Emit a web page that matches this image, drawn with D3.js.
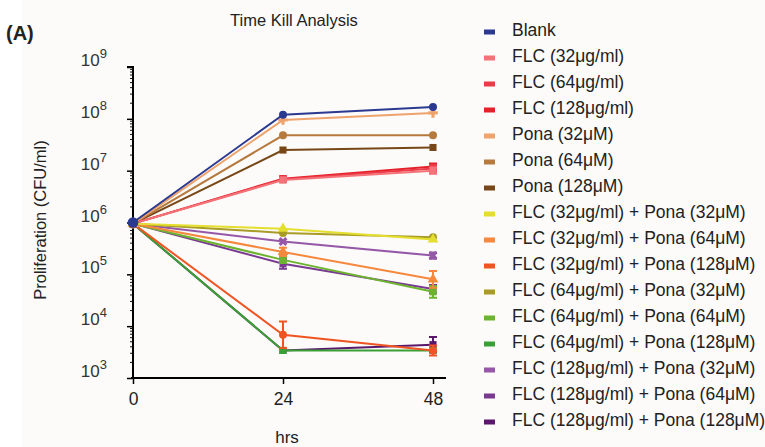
<!DOCTYPE html>
<meta charset="utf-8">
<script src="https://d3js.org/d3.v7.min.js"></script>
<style>
    body { margin: 0; background: #fff; }
    text { font-family: 'Liberation Sans', Arial, sans-serif; fill: #222; }
</style>
<div id="chart"></div>
<script>
    // time points (hrs)
    let hours = [0, 24, 48];
    let xTicks = [0, 24, 48];
    let yTickExps = [3, 4, 5, 6, 7, 8, 9];

    let names = [
        "Blank", "FLC (32μg/ml)", "FLC (64μg/ml)", "FLC (128μg/ml)",
        "Pona (32μM)", "Pona (64μM)", "Pona (128μM)",
        "FLC (32μg/ml) + Pona (32μM)", "FLC (32μg/ml) + Pona (64μM)", "FLC (32μg/ml) + Pona (128μM)",
        "FLC (64μg/ml) + Pona (32μM)", "FLC (64μg/ml) + Pona (64μM)", "FLC (64μg/ml) + Pona (128μM)",
        "FLC (128μg/ml) + Pona (32μM)", "FLC (128μg/ml) + Pona (64μM)", "FLC (128μg/ml) + Pona (128μM)"
    ];
    let colors = [
        "#2b3990", "#f47378", "#ec3b48", "#e5202a",
        "#eea36c", "#b67a3f", "#774717",
        "#e4de2e", "#f5883c", "#ef5522",
        "#a89c26", "#6cb42f", "#3a9f34",
        "#9558a8", "#7a3a92", "#5a176c"
    ];
    let markers = [
        "circle", "square", "square", "square",
        "cross", "circle", "square",
        "triangle", "triangle", "circle",
        "circle", "square", "square",
        "x", "square", "square"
    ];
    // CFU/ml at 0, 24, 48 hrs
    let values = [
        [1.0e6, 1.2e8, 1.7e8],
        [9.5e5, 6.6e6, 1.0e7],
        [9.5e5, 6.8e6, 1.1e7],
        [9.5e5, 7.0e6, 1.2e7],
        [9.5e5, 9.5e7, 1.3e8],
        [9.5e5, 4.8e7, 4.8e7],
        [9.5e5, 2.5e7, 2.8e7],
        [9.5e5, 7.6e5, 4.7e5],
        [9.5e5, 2.7e5, 8.0e4],
        [9.5e5, 6.8e3, 3.4e3],
        [9.5e5, 6.3e5, 5.2e5],
        [9.5e5, 1.9e5, 4.6e4],
        [9.5e5, 3.4e3, 3.4e3],
        [9.5e5, 4.3e5, 2.3e5],
        [9.5e5, 1.6e5, 5.2e4],
        [9.5e5, 3.4e3, 4.4e3]
    ];
    // error bar half-range as multiplicative factor (1 = none)
    let errors = [
        [1, 1, 1], [1, 1.1, 1.15], [1, 1.1, 1.15], [1, 1.1, 1.15],
        [1, 1, 1], [1, 1, 1], [1, 1, 1],
        [1, 1, 1], [1, 1.2, 1.45], [1, 1.8, 1.25],
        [1, 1, 1], [1, 1.15, 1.3], [1, 1, 1],
        [1, 1, 1.15], [1, 1.25, 1.2], [1, 1, 1.4]
    ];

    let width = 765, height = 447;
    let svg = d3.select("#chart").append("svg")
        .attr("width", width).attr("height", height);

    svg.append("rect").attr("x", 22).attr("y", 0)
        .attr("width", width - 22).attr("height", height).attr("fill", "#fcfbf9");

    let x = d3.scaleLinear().domain([0, 48]).range([133, 433]);
    let y = d3.scaleLog().domain([1e3, 1e9]).range([378, 67]);

    // title and panel label
    svg.append("text").attr("x", 294).attr("y", 26).attr("text-anchor", "middle")
        .style("font-size", "16.5px").text("Time Kill Analysis");
    svg.append("text").attr("x", 6).attr("y", 40)
        .style("font-size", "20px").style("font-weight", "bold").text("(A)");

    // y axis with minor ticks
    let yAxis = d3.axisLeft(y)
        .tickValues(yTickExps.map(e => Math.pow(10, e)))
        .tickSize(6).tickFormat("");
    let gy = svg.append("g").attr("transform", "translate(133,0)").call(yAxis);
    let minor = [];
    for (let e = 3; e < 9; e++) for (let k = 2; k < 10; k++) minor.push(k * Math.pow(10, e));
    gy.selectAll(".minor").data(minor).enter().append("line")
        .attr("class", "minor").attr("x1", -3).attr("x2", 0)
        .attr("y1", d => y(d)).attr("y2", d => y(d))
        .attr("stroke", "#111").attr("stroke-width", 1);
    gy.select(".domain").attr("d", "M-6," + y(1e9) + "H0V" + y(1e3)).attr("stroke-width", 2);
    gy.selectAll(".tick line").attr("stroke-width", 1.5);

    // tick labels as 10 with superscript exponent
    let lab = svg.append("g").selectAll("text").data(yTickExps).enter().append("text")
        .attr("x", 107).attr("y", d => y(Math.pow(10, d)) - 1)
        .attr("text-anchor", "end").style("font-size", "17px").style("fill", "#333");
    lab.append("tspan").text("10");
    lab.append("tspan").attr("dy", -8).style("font-size", "13px").text(d => d);

    // x axis
    let gx = svg.append("g").attr("transform", "translate(0,378)")
        .call(d3.axisBottom(x).tickValues(xTicks).tickSize(6).tickSizeOuter(0));
    gx.select(".domain").attr("d", "M131,0H446").attr("stroke-width", 2);
    gx.selectAll(".tick line").attr("stroke-width", 1.5);
    gx.selectAll(".tick text").attr("y", 15).style("font-size", "17.5px")
        .style("font-family", "'Liberation Sans', Arial, sans-serif").attr("fill", "#222");

    svg.append("text").attr("x", 287).attr("y", 443).attr("text-anchor", "middle")
        .style("font-size", "17px").text("hrs");
    svg.append("text").attr("transform", "translate(46,220) rotate(-90)")
        .attr("text-anchor", "middle").style("font-size", "16.5px").text("Proliferation (CFU/ml)");

    let line = d3.line().x((d, i) => x(hours[i])).y(d => y(d));
    let symbolTypes = {
        circle: d3.symbolCircle, square: d3.symbolSquare,
        triangle: d3.symbolTriangle, cross: d3.symbolCross, x: d3.symbolCross
    };

    // draw series, lowest first so Blank sits on top
    let order = d3.range(names.length).reverse();
    order.forEach(function (s) {
        let g = svg.append("g");
        g.append("path").datum(values[s]).attr("d", line)
            .attr("fill", "none").attr("stroke", colors[s]).attr("stroke-width", 2);
        values[s].forEach(function (v, i) {
            let f = errors[s][i];
            if (f > 1) {
                let cx = x(hours[i]);
                g.append("path")
                    .attr("d", "M" + (cx - 4) + "," + y(v * f) + "H" + (cx + 4) +
                        "M" + cx + "," + y(v * f) + "V" + y(v / f) +
                        "M" + (cx - 4) + "," + y(v / f) + "H" + (cx + 4))
                    .attr("stroke", colors[s]).attr("stroke-width", 2).attr("fill", "none");
            }
            let rot = markers[s] === "x" ? " rotate(45)" : "";
            g.append("path")
                .attr("transform", "translate(" + x(hours[i]) + "," + y(v) + ")" + rot)
                .attr("d", d3.symbol().type(symbolTypes[markers[s]]).size(s === 0 && i === 0 ? 90 : 50)())
                .attr("fill", colors[s]);
        });
    });

    // legend
    let leg = svg.append("g").selectAll("g").data(names).enter().append("g")
        .attr("transform", (d, i) => "translate(484," + (32 + i * 26) + ")");
    leg.append("rect").attr("x", 0).attr("y", -2.5).attr("width", 11).attr("height", 5)
        .attr("fill", (d, i) => colors[i]);
    leg.append("text").attr("x", 28).attr("y", 4)
        .style("font-size", "17.5px").style("fill", "#222").text(d => d);
</script>
